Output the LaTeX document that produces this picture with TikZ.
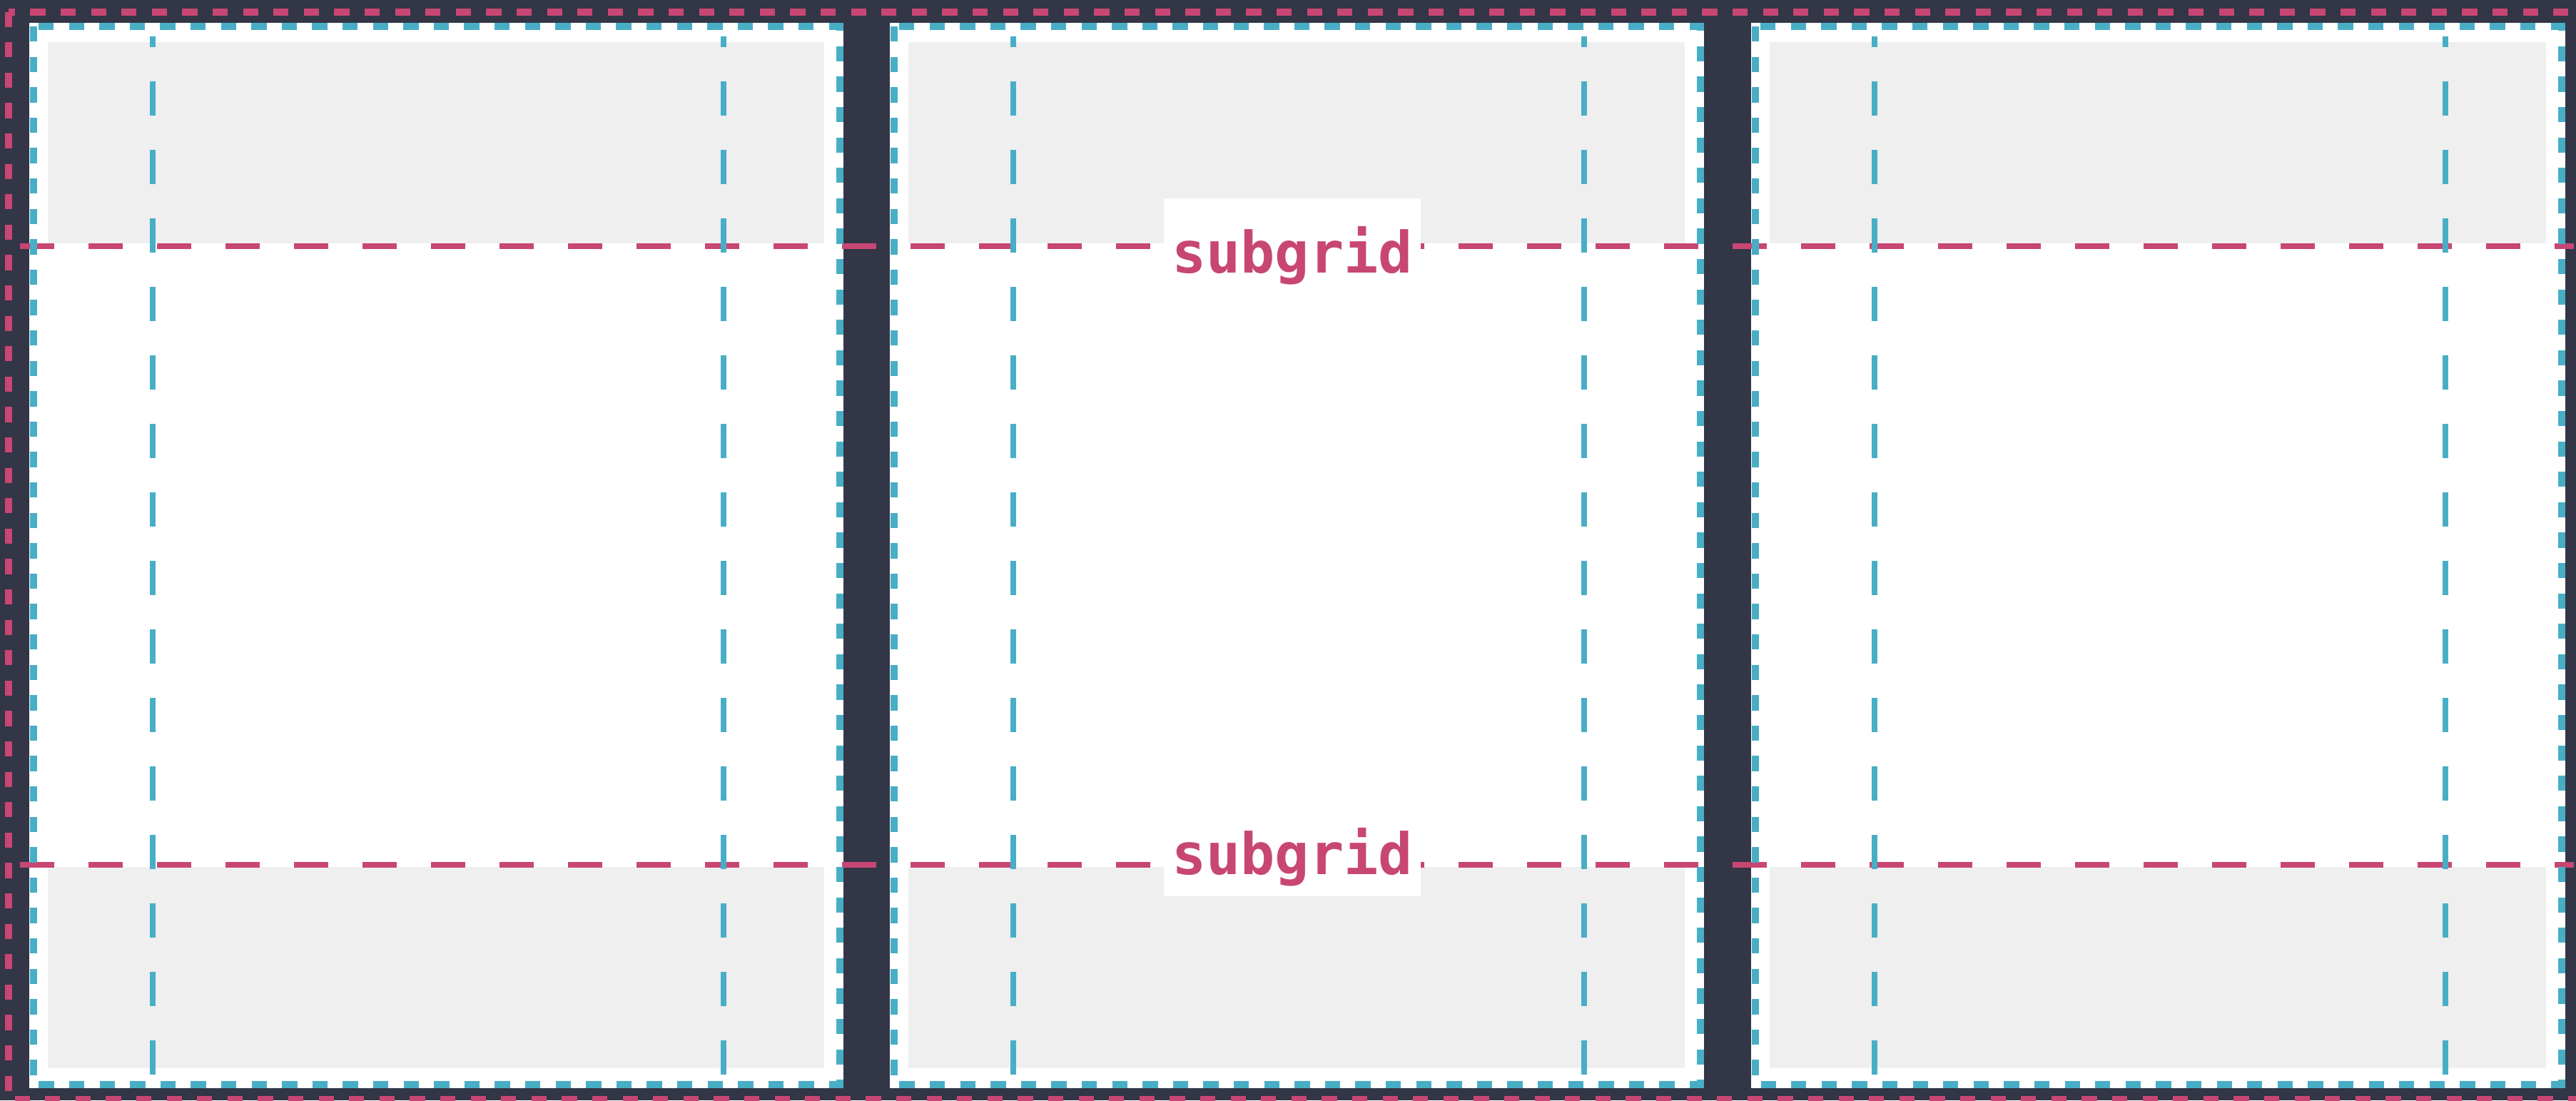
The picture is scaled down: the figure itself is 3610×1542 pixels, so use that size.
\documentclass[tikz,border=0pt]{standalone}
\usepackage{fontspec}
\newfontfamily\gridFont{DejaVu Sans Mono}
\definecolor{gridBg}{RGB}{50,54,70}
\definecolor{subPink}{RGB}{200,70,116}
\definecolor{colBlue}{RGB}{72,174,198}
\definecolor{areaGray}{RGB}{239,239,239}

\begin{document}
\begin{tikzpicture}[x=0.1mm,y=-0.1mm,
    outerLine/.style={draw=subPink,line width=1mm,dash pattern=on 2.13mm off 2.13mm},
    colBorder/.style={draw=colBlue,line width=1mm,dash pattern=on 2.13mm off 2.13mm},
    colLine/.style={draw=colBlue,line width=0.8mm,dash pattern=on 4.8mm off 4.8mm,dash phase=3.3mm},
    subLine/.style={draw=subPink,line width=0.8mm,dash pattern=on 4.8mm off 4.8mm},
    subLabel/.style={fill=white,text=subPink,inner sep=0pt,minimum width=36mm,
      text height=10.4mm,text depth=3.1mm,anchor=base,
      font=\gridFont\bfseries\fontsize{22.8pt}{24pt}\selectfont}]
  \useasboundingbox (0,0) rectangle (3610,1542);
  \fill[gridBg] (0,0) rectangle (3610,1542);
  % columns
  \foreach \x in {41,1247,2454}{
    \fill[white] (\x,32) rectangle (\x+1141,1525);
    \fill[areaGray] (\x+26,59) rectangle (\x+1114,341);
    \fill[areaGray] (\x+26,1215) rectangle (\x+1114,1497);
  }
  % subgrid rows
  \draw[subLine] (28,345) -- (3607,345);
  \draw[subLine] (28,1212) -- (3607,1212);
  \node[subLabel] (subTop) at (1811,382) {subgrid};
  \node[subLabel] (subBottom) at (1811,1225) {subgrid};
  % column tracks
  \foreach \x in {41,1247,2454}{
    \draw[colBorder] (\x+5.5,37) rectangle (\x+1135.5,1520);
    \draw[colLine] (\x+173,51) -- (\x+173,1506);
    \draw[colLine] (\x+973,51) -- (\x+973,1506);
  }
  %\draw[outerLine] (0,0) rectangle (3610,1542);
  \draw[outerLine] (11.5,16.5) rectangle (3625,1541);
\end{tikzpicture}
\end{document}
